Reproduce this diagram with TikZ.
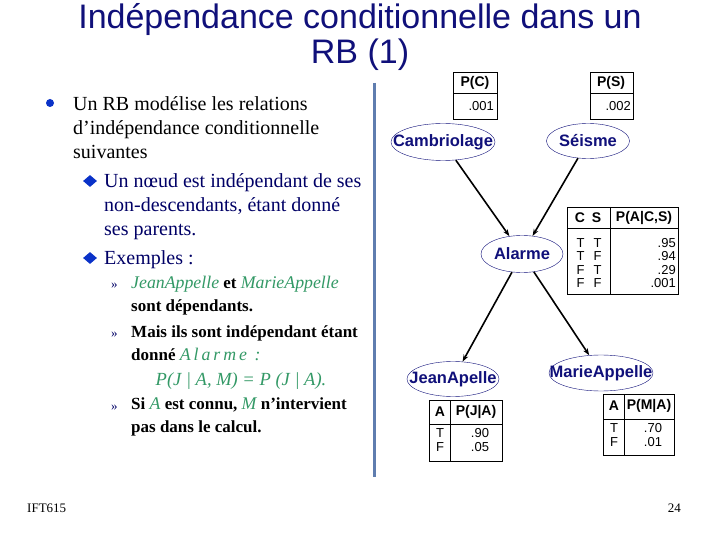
\documentclass[tikz,border=0pt]{standalone}
\usepackage{fontspec}
\setmainfont{Liberation Serif}
\setsansfont{Liberation Sans}
\usepackage{tikz}
\usetikzlibrary{arrows.meta,shapes.geometric}
\definecolor{bleunuit}{RGB}{16,16,122}
\definecolor{bleufonce}{RGB}{0,0,102}
\definecolor{bleupuce}{RGB}{10,50,200}
\definecolor{vertvar}{RGB}{51,153,102}
\definecolor{barre}{RGB}{95,125,175}
\newcommand{\gr}[1]{{\color{vertvar}\normalfont\itshape\fontsize{17.8}{23}\selectfont #1}}
\tikzset{
  rbnode/.style ={ellipse,draw=bleunuit,fill=white,inner sep=0pt,
                  text=bleunuit,font=\sffamily\bfseries\fontsize{16.5}{18}\selectfont},
  lien/.style   ={-{Stealth[length=7pt,width=5pt]},line width=1.6pt},
  tabbox/.style ={draw,line width=0.7pt},
  thead/.style  ={inner sep=0pt,font=\sffamily\bfseries\fontsize{14}{15}\selectfont},
  tval/.style   ={inner sep=0pt,align=center,font=\sffamily\fontsize{13}{13.5}\selectfont},
  niv1/.style   ={anchor=north west,inner sep=0pt,align=left,
                  font=\fontsize{20}{24}\selectfont},
  niv2/.style   ={niv1,text=bleufonce},
  niv3/.style   ={anchor=north west,inner sep=0pt,align=left,
                  font=\bfseries\fontsize{17}{23}\selectfont},
  puce3/.style  ={anchor=base west,inner sep=0pt,text=bleufonce,
                  font=\fontsize{13}{14}\selectfont},
  losange/.style={diamond,fill=bleupuce,inner sep=0pt,minimum width=14pt,
                  minimum height=12pt},
  pied/.style   ={inner sep=0pt,font=\fontsize{13}{14}\selectfont},
}

\begin{document}
\begin{tikzpicture}[x=1pt,y=-1pt]
  \useasboundingbox[fill=white] (0,0) rectangle (720,540);
  % title
  \node[anchor=north,inner sep=0pt,align=center,text=bleunuit,
        font=\sffamily\fontsize{34}{35}\selectfont] (titre) at (360,3)
        {Indépendance conditionnelle dans un\\RB (1)};
  % left column
  \node[circle,fill=bleupuce,inner sep=0pt,minimum size=8pt] (p1) at (50,103) {};
  \node[niv1] (t1) at (73,96) {Un RB modélise les relations\\d’indépendance conditionnelle\\suivantes};
  \node[losange] (p2) at (90,181) {};
  \node[niv2] (t2) at (104,173) {Un nœud est indépendant de ses\\non-descendants, étant donné\\ses parents.};
  \node[losange] (p3) at (90,258) {};
  \node[niv2] (t3) at (104,250) {Exemples :};
  \node[puce3] (q1) at (111,288) {»};
  \node[niv3] (u1) at (131,276) {\gr{JeanAppelle} et \gr{MarieAppelle}\\sont dépendants.};
  \node[puce3] (q2) at (111,337) {»};
  \node[niv3] (u2) at (131,325) {Mais ils sont indépendant étant\\donné \gr{A\,l\,a\,r\,m\,e\, :}};
  \node[anchor=base,inner sep=0pt,font=\fontsize{18.5}{23}\selectfont] (form) at (241,385)
        {\color{vertvar}\itshape P(J | A, M) = P (J | A).};
  \node[puce3] (q3) at (111,410) {»};
  \node[niv3] (u3) at (131,398) {Si \gr{A} est connu, \gr{M} n’intervient\\pas dans le calcul.};
  % separator
  \draw[barre,line width=3pt] (374,83) -- (374,477);
  % network
  \node[rbnode,minimum width=104pt,minimum height=37pt] (cam) at (443,142) {\makebox[0pt]{Cambriolage}};
  \node[rbnode,minimum width=83pt,minimum height=35pt] (sei) at (588,141) {\makebox[0pt]{Séisme}};
  \node[rbnode,minimum width=82pt,minimum height=37pt] (ala) at (522,254) {\makebox[0pt]{Alarme}};
  \node[rbnode,minimum width=92pt,minimum height=35pt] (jea) at (453,379) {\makebox[0pt]{JeanApelle}};
  \node[rbnode,minimum width=104pt,minimum height=36pt] (mar) at (601,373) {\makebox[0pt]{MarieAppelle}};
  \draw[lien] (cam) -- (ala);
  \draw[lien] (sei) -- (ala);
  \draw[lien] (ala) -- (jea);
  \draw[lien] (ala) -- (mar);
  % P(C)
  \draw[tabbox] (453,72) rectangle (497,119) (453,93) -- (497,93);
  \node[thead] (hc) at (475,83) {P(C)};
  \node[tval,anchor=east] (vc) at (494,106) {.001};
  % P(S)
  \draw[tabbox] (590,72) rectangle (633,119) (590,93) -- (633,93);
  \node[thead] (hs) at (611,83) {P(S)};
  \node[tval,anchor=east] (vs) at (631,106) {.002};
  % P(A|C,S)
  \draw[tabbox] (567,207) rectangle (678,294) (567,228) -- (678,228) (610,207) -- (610,294);
  \node[thead] (ha) at (588,218) {C\hspace{7pt}S};
  \node[thead] (hpa) at (644,218) {P(A|C,S)};
  \node[tval] (ca) at (589,263) {T\hspace{9pt}T\\T\hspace{9pt}F\\F\hspace{9pt}T\\F\hspace{9pt}F};
  \node[tval,align=right,anchor=east] (va) at (676,263) {.95\\.94\\.29\\.001};
  % P(J|A)
  \draw[tabbox] (429,400) rectangle (502,461) (429,424) -- (502,424) (450,400) -- (450,461);
  \node[thead] (hj) at (440,412) {A};
  \node[thead] (hpj) at (476,412) {P(J|A)};
  \node[tval] (cj) at (440,440) {T\\F};
  \node[tval] (vj) at (480,440) {.90\\.05};
  % P(M|A)
  \draw[tabbox] (603,394) rectangle (674,455) (603,419) -- (674,419) (624,394) -- (624,455);
  \node[thead] (hm) at (614,406) {A};
  \node[thead] (hpm) at (649,406) {P(M|A)};
  \node[tval] (cm) at (614,435) {T\\F};
  \node[tval] (vm) at (653,435) {.70\\.01};
  % footer
  \node[pied,anchor=base west] (cours) at (27,512) {IFT615};
  \node[pied,anchor=base east] (num) at (681,512) {24};
\end{tikzpicture}
\end{document}
